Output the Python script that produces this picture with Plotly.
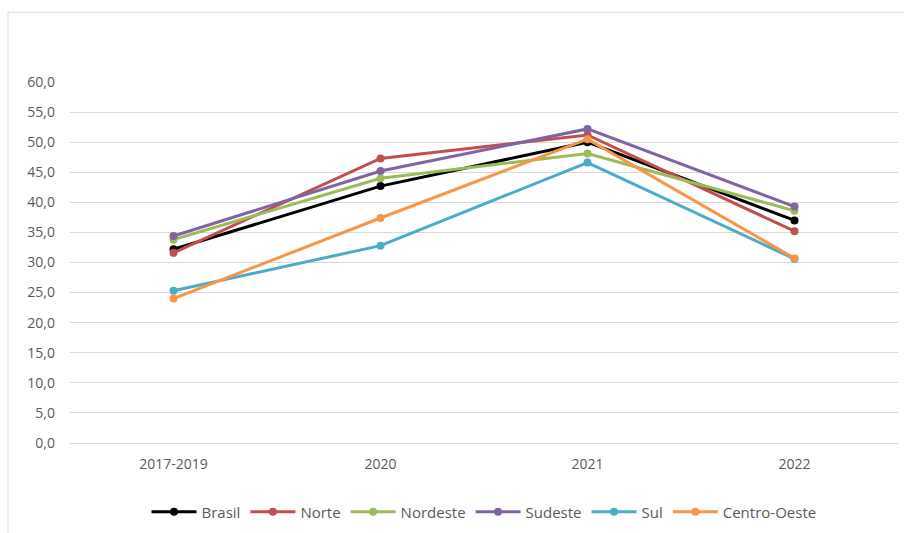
import plotly.graph_objects as go

# Categories (periods) and series values per region
periods = ["2017-2019", "2020", "2021", "2022"]
brasil = [32.2, 42.7, 50.0, 37.0]
norte = [31.6, 47.3, 51.2, 35.2]
nordeste = [33.8, 44.0, 48.1, 38.6]
sudeste = [34.4, 45.2, 52.2, 39.3]
sul = [25.3, 32.8, 46.6, 30.6]
centro_oeste = [24.0, 37.4, 50.5, 30.7]

series_names = ["Brasil", "Norte", "Nordeste", "Sudeste", "Sul", "Centro-Oeste"]
series_values = [brasil, norte, nordeste, sudeste, sul, centro_oeste]
series_colors = ["#000000", "#C0504D", "#9BBB59", "#8064A2", "#4BACC6", "#F79646"]
y_ticks = [0, 5, 10, 15, 20, 25, 30, 35, 40, 45, 50, 55, 60]
y_tick_labels = [f"{v:.1f}".replace(".", ",") for v in y_ticks]

W, H = 904, 533
L, R, T, B = 70, 6, 82, 89

fig = go.Figure()
for name, vals, color in zip(series_names, series_values, series_colors):
    fig.add_trace(go.Scatter(
        x=periods, y=vals, name=name, mode="lines+markers",
        line=dict(color=color, width=3),
        marker=dict(color=color, size=8, symbol="circle"),
    ))

plot_w = W - L - R
plot_h = H - T - B

fig.update_layout(
    width=W, height=H,
    margin=dict(l=L, r=R, t=T, b=B),
    paper_bgcolor="white", plot_bgcolor="white",
    font=dict(family="Open Sans, Lato, sans-serif", size=14, color="#595959"),
    showlegend=True,
    legend=dict(
        orientation="h", x=0.5, xanchor="center",
        y=-(512 - 444) / plot_h, yanchor="middle",
        font=dict(size=15, color="#595959"),
        itemwidth=45, tracegroupgap=0,
    ),
    xaxis=dict(
        type="category", range=[-0.5, 3.5],
        showgrid=False, showline=False, zeroline=False,
        ticks="", tickfont=dict(size=14, color="#595959"),
        ticklabelstandoff=11,
    ),
    yaxis=dict(
        range=[0, 60], tickvals=y_ticks, ticktext=y_tick_labels,
        showgrid=True, gridcolor="#D9D9D9", gridwidth=1,
        zeroline=True, zerolinecolor="#D9D9D9", zerolinewidth=1,
        showline=False, ticks="", tickfont=dict(size=14, color="#595959"),
        ticklabelstandoff=14,
    ),
    shapes=[dict(
        type="rect", xref="paper", yref="paper",
        x0=(8 - L) / plot_w, x1=(W + 5 - L) / plot_w,
        y0=-(H + 5 - (T + plot_h)) / plot_h, y1=((T + plot_h) - 12) / plot_h,
        line=dict(color="#D9D9D9", width=1), fillcolor="rgba(0,0,0,0)",
        layer="below",
    )],
)

fig.write_html("out.html")
